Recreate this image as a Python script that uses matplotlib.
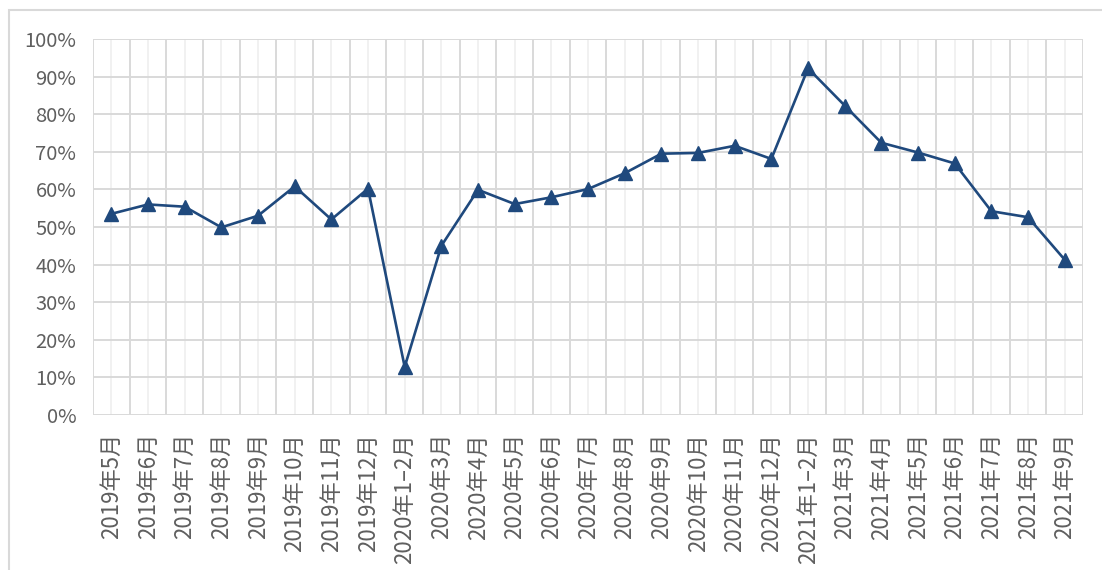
import matplotlib
matplotlib.use("Agg")
import matplotlib.pyplot as plt
from matplotlib.patches import Rectangle
import numpy as np

plt.rcParams['font.family'] = ['Noto Sans CJK SC', 'DejaVu Sans']

categories = ["2019年5月", "2019年6月", "2019年7月", "2019年8月", "2019年9月",
              "2019年10月", "2019年11月", "2019年12月", "2020年1–2月", "2020年3月",
              "2020年4月", "2020年5月", "2020年6月", "2020年7月", "2020年8月",
              "2020年9月", "2020年10月", "2020年11月", "2020年12月", "2021年1–2月",
              "2021年3月", "2021年4月", "2021年5月", "2021年6月", "2021年7月",
              "2021年8月", "2021年9月"]
values = [53.5, 56.0, 55.4, 49.9, 53.0, 60.8, 52.0, 60.2, 12.8, 45.0,
          59.9, 56.1, 57.9, 60.1, 64.3, 69.5, 69.7, 71.6, 68.1, 92.2,
          82.3, 72.4, 69.8, 66.9, 54.2, 52.6, 41.3]
yticks = [0, 10, 20, 30, 40, 50, 60, 70, 80, 90, 100]
ytick_labels = [f"{v}%" for v in yticks]

fig = plt.figure(figsize=(11.02, 5.70), dpi=100)
ax = fig.add_axes([0.0844, 0.2719, 0.8984, 0.6597])

n = len(categories)
x = np.arange(n)
ax.set_xlim(-0.5, n - 0.5)
ax.set_ylim(0, 100)

grid_c = '#d9d9d9'
light_c = '#efefef'
for b in np.arange(-0.5, n, 1.0):
    ax.axvline(b, color=grid_c, lw=1.4, zorder=1)
for c in x:
    ax.axvline(c, color=light_c, lw=1.2, zorder=0.9)
for y in yticks:
    ax.axhline(y, color=grid_c, lw=1.4, zorder=1)

ax.plot(x, values, color='#1f497d', lw=1.9, marker='^', markersize=10,
        markerfacecolor='#1f497d', markeredgecolor='#1f497d', zorder=3)

for s in ax.spines.values():
    s.set_visible(False)

ax.set_yticks(yticks)
ax.set_yticklabels(ytick_labels, fontsize=14.5, color='#5f5f5f')
ax.set_xticks(x)
ax.set_xticklabels(categories, rotation=90, fontsize=16, color='#5f5f5f',
                   va='top', ha='center')
ax.tick_params(axis='both', length=0)
ax.tick_params(axis='y', pad=12)
ax.tick_params(axis='x', pad=13)

fig.patches.append(Rectangle((9 / 1102, -0.1), 1.2, 1 - 10 / 570 + 0.1,
                             transform=fig.transFigure, fill=False,
                             edgecolor='#d9d9d9', lw=1.5))

fig.savefig("out.png", dpi=100)
